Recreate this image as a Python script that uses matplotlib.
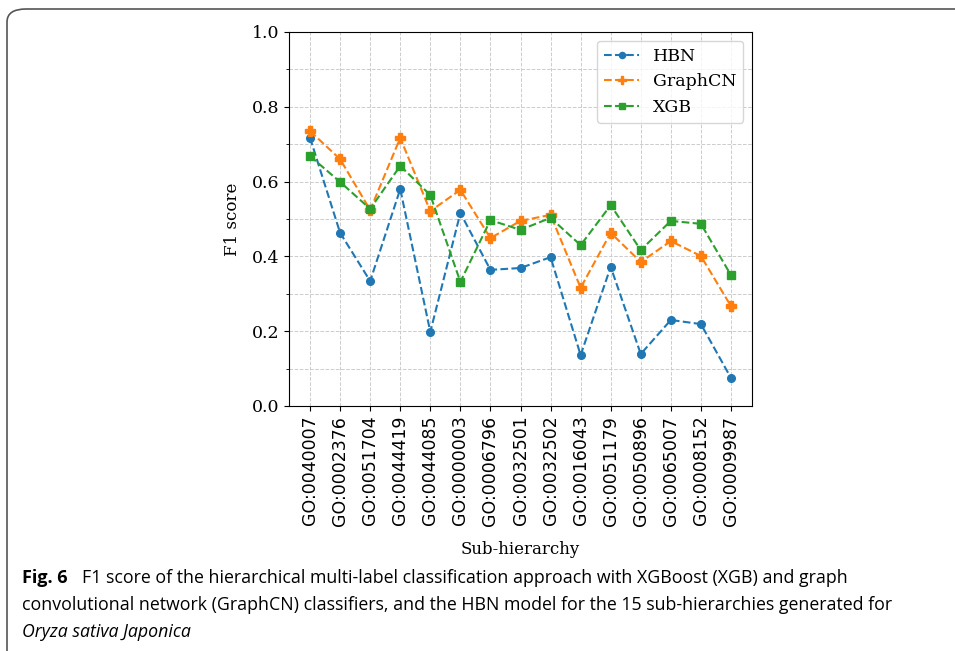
import matplotlib.pyplot as plt
from matplotlib.patches import FancyBboxPatch

sub_hierarchies = ["GO:0040007", "GO:0002376", "GO:0051704", "GO:0044419", "GO:0044085",
                   "GO:0000003", "GO:0006796", "GO:0032501", "GO:0032502", "GO:0016043",
                   "GO:0051179", "GO:0050896", "GO:0065007", "GO:0008152", "GO:0009987"]
hbn = [0.717, 0.463, 0.334, 0.580, 0.198, 0.516, 0.364, 0.369, 0.398, 0.136,
       0.372, 0.139, 0.230, 0.219, 0.075]
graphcn = [0.735, 0.660, 0.524, 0.717, 0.521, 0.578, 0.449, 0.495, 0.511, 0.316,
           0.463, 0.385, 0.441, 0.401, 0.267]
xgb = [0.668, 0.599, 0.527, 0.642, 0.564, 0.332, 0.497, 0.471, 0.503, 0.430,
       0.537, 0.417, 0.495, 0.487, 0.350]

fig = plt.figure(figsize=(9.55, 6.51), dpi=100)

# rounded frame around figure + caption
frame = FancyBboxPatch((7 / 955, -0.05), 1.1, 1.0 - 9 / 651 + 0.05,
                       boxstyle="round,pad=0,rounding_size=0.02",
                       transform=fig.transFigure, fill=False,
                       edgecolor="#555555", linewidth=1.2)
fig.patches.append(frame)

ax = fig.add_axes([289 / 955, 1 - 406 / 651, (752 - 289) / 955, (406 - 32) / 651])
x = range(len(sub_hierarchies))
ax.plot(x, hbn, "--o", color="#1f77b4", markersize=5.5, label="HBN")
ax.plot(x, graphcn, "--P", color="#ff7f0e", markersize=6.5, label="GraphCN")
ax.plot(x, xgb, "--s", color="#2ca02c", markersize=5.5, label="XGB")

ax.set_ylim(0, 1.0)
ax.set_xlim(-0.7, 14.7)
ax.set_xticks(list(x))
ax.set_xticklabels(sub_hierarchies, rotation=90, family="DejaVu Sans", fontsize=12.5)
ax.set_yticks([0, 0.2, 0.4, 0.6, 0.8, 1.0])
ax.set_yticks([0.1, 0.3, 0.5, 0.7, 0.9], minor=True)
ax.set_yticklabels(["0.0", "0.2", "0.4", "0.6", "0.8", "1.0"], family="DejaVu Serif", fontsize=12.5)
ax.grid(True, which="both", linestyle="--", color="#cccccc", linewidth=0.7)
ax.set_ylabel("F1 score", family="DejaVu Serif", fontsize=12, labelpad=8)
ax.set_xlabel("Sub-hierarchy", family="DejaVu Serif", fontsize=12, labelpad=11)
ax.legend(loc="upper right", prop={"family": "DejaVu Serif", "size": 12.5}, markerscale=0.8)

cap_font = ["Liberation Sans Narrow", "Open Sans", "DejaVu Sans"]
fig.text(22 / 955, 1 - 578 / 651, "Fig. 6", fontsize=13, fontweight="bold", family=cap_font, va="center")
fig.text(82 / 955, 1 - 578 / 651,
         "F1 score of the hierarchical multi-label classification approach with XGBoost (XGB) and graph",
         fontsize=12.8, family=cap_font, va="center")
fig.text(22 / 955, 1 - 605 / 651,
         "convolutional network (GraphCN) classifiers, and the HBN model for the 15 sub-hierarchies generated for",
         fontsize=12.8, family=cap_font, va="center")
fig.text(22 / 955, 1 - 632 / 651, "Oryza sativa Japonica", fontsize=12.8, style="italic",
         family=cap_font, va="center")

fig.savefig("out.png", dpi=100)
